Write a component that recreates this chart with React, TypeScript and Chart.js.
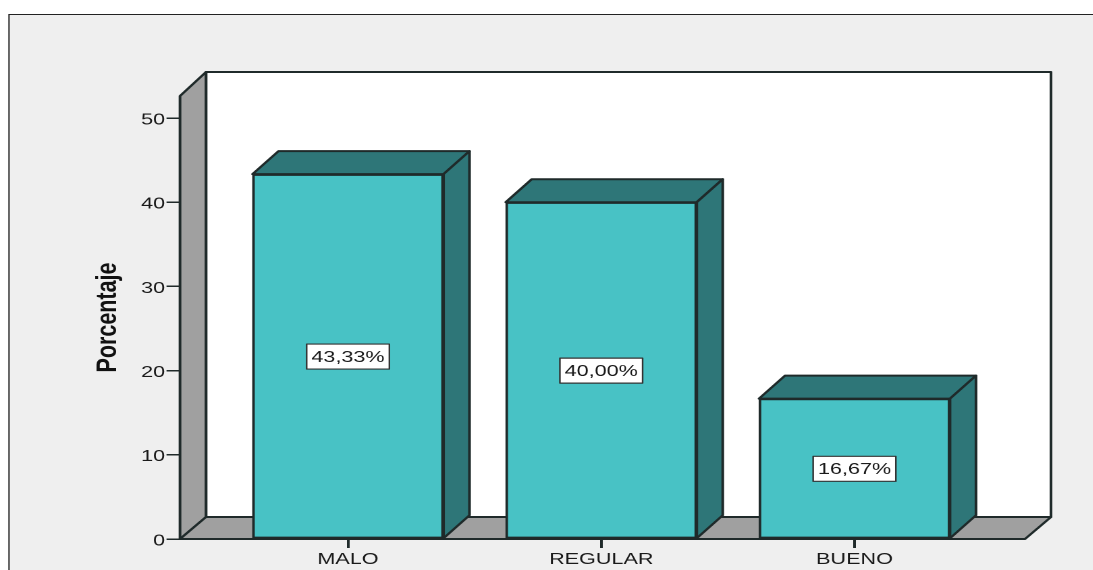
import React, { useEffect, useRef } from "react";
import { Chart, registerables } from "chart.js";

Chart.register(...registerables);

const categories = ["MALO", "REGULAR", "BUENO"];
const percentages = [43.33, 40.0, 16.67];
const yTicks = [0, 10, 20, 30, 40, 50];
const yAxisTitle = "Porcentaje";

const W = 1093;
const H = 570;
const S = 1.35; // the reference is stretched horizontally
const CW = Math.ceil(W / S);
const DX = 26 / S;
const DY = 23;
const LINE = "#1f2a2a";

const poly = (ctx: CanvasRenderingContext2D, pts: number[][], fill: string, lw = 2) => {
  ctx.beginPath();
  pts.forEach(([x, y], i) => (i ? ctx.lineTo(x, y) : ctx.moveTo(x, y)));
  ctx.closePath();
  ctx.fillStyle = fill;
  ctx.fill();
  ctx.lineWidth = lw;
  ctx.lineJoin = "round";
  ctx.strokeStyle = LINE;
  ctx.stroke();
};

const scene = {
  id: "scene",
  beforeDraw(chart: any) {
    const { ctx } = chart;
    ctx.save();
    ctx.fillStyle = "#ffffff";
    ctx.fillRect(0, 0, chart.width, chart.height);
    ctx.fillStyle = "#efefef";
    ctx.fillRect(9 / S, 14, chart.width, chart.height);
    ctx.strokeStyle = "#222222";
    ctx.lineWidth = 1;
    ctx.beginPath();
    ctx.moveTo(9 / S, chart.height);
    ctx.lineTo(9 / S, 14.5);
    ctx.lineTo(chart.width, 14.5);
    ctx.stroke();
    ctx.restore();
  },
  beforeDatasetsDraw(chart: any) {
    const { ctx, chartArea: a } = chart;
    ctx.save();
    const d = 22;
    poly(ctx, [[a.left + DX, a.top - 24], [a.right + DX, a.top - 24], [a.right + DX, a.bottom - d], [a.left + DX, a.bottom - d]], "#ffffff");
    poly(ctx, [[a.left, a.top], [a.left + DX, a.top - 24], [a.left + DX, a.bottom - d], [a.left, a.bottom]], "#a0a0a0");
    poly(ctx, [[a.left, a.bottom], [a.left + DX, a.bottom - d], [a.right + DX, a.bottom - d], [a.right, a.bottom]], "#a0a0a0");
    ctx.restore();
  },
  afterDatasetsDraw(chart: any) {
    const { ctx, scales } = chart;
    ctx.save();
    chart.getDatasetMeta(0).data.forEach((bar: any, i: number) => {
      const l = bar.x - bar.width / 2;
      const r = bar.x + bar.width / 2;
      const t = bar.y;
      const b = bar.base;
      poly(ctx, [[l, t], [l + DX, t - DY], [r + DX, t - DY], [r, t]], "#2e7678");
      poly(ctx, [[r, t], [r + DX, t - DY], [r + DX, b - DY], [r, b]], "#2e7678");

      const text = percentages[i].toFixed(2).replace(".", ",") + "%";
      const cy = scales.y.getPixelForValue(percentages[i] / 2);
      ctx.font = "16px 'Liberation Sans'";
      const w = ctx.measureText(text).width + 7;
      const h = 25;
      ctx.fillStyle = "#ffffff";
      ctx.strokeStyle = "#333333";
      ctx.lineWidth = 1.2;
      ctx.fillRect(bar.x - w / 2, cy - h / 2, w, h);
      ctx.strokeRect(bar.x - w / 2, cy - h / 2, w, h);
      ctx.fillStyle = "#1a1a1a";
      ctx.textAlign = "center";
      ctx.textBaseline = "middle";
      ctx.fillText(text, bar.x, cy + 1);
    });
    ctx.restore();
  },
};

export default function App() {
  const ref = useRef<HTMLCanvasElement>(null);
  useEffect(() => {
    const chart = new Chart(ref.current!, {
      type: "bar",
      data: {
        datasets: [
          {
            data: percentages.map((v, i) => ({ x: i + 1, y: v })),
            backgroundColor: "#48c2c5",
            borderColor: LINE,
            borderWidth: 2,
            borderSkipped: false,
            barThickness: 191 / S,
            clip: false,
          } as any,
        ],
      },
      options: {
        responsive: false,
        animation: false,
        devicePixelRatio: 2,
        layout: { padding: { top: 96, right: CW - 1025 / S, left: 0, bottom: 0 } },
        plugins: { legend: { display: false }, tooltip: { enabled: false }, title: { display: false } },
        scales: {
          x: {
            type: "linear",
            offset: false,
            min: 1 - 168 / 253.25,
            max: 3 + 170.5 / 253.25,
            afterBuildTicks: (s: any) => {
              s.ticks = categories.map((_, i) => ({ value: i + 1 }));
            },
            afterFit: (s: any) => {
              s.height = H - 539;
            },
            ticks: {
              callback: (v: any) => categories[v - 1],
              color: "#1a1a1a",
              font: { family: "'Liberation Sans'", size: 16 },
              maxRotation: 0,
              autoSkip: false,
              padding: 2,
            },
            grid: { offset: false, drawOnChartArea: false, drawTicks: true, tickLength: 9, color: LINE, lineWidth: 2 },
            border: { display: false },
          },
          y: {
            type: "linear",
            min: 0,
            max: 443 / 8.42,
            afterBuildTicks: (s: any) => {
              s.ticks = yTicks.map((value) => ({ value }));
            },
            afterFit: (s: any) => {
              s.width = 180 / S;
            },
            title: {
              display: true,
              text: yAxisTitle,
              color: "#111111",
              font: { family: "'Liberation Sans'", size: 21.5, weight: "bold" },
              padding: { top: 67, bottom: 0 },
            },
            ticks: {
              color: "#1a1a1a",
              font: { family: "'Liberation Sans'", size: 16 },
              padding: 1,
              labelOffset: 2,
            },
            grid: { drawOnChartArea: false, drawTicks: true, tickLength: 10, color: LINE, lineWidth: 1.5 },
            border: { display: false },
          },
        },
      },
      plugins: [scene],
    } as any);
    return () => chart.destroy();
  }, []);
  return (
    <div style={{ position: "fixed", left: 0, top: 0, width: W, height: H, overflow: "hidden", background: "#fff" }}>
      <canvas
        ref={ref}
        width={CW}
        height={H}
        style={{ display: "block", transformOrigin: "0 0", transform: `scaleX(${S})` }}
      />
    </div>
  );
}
